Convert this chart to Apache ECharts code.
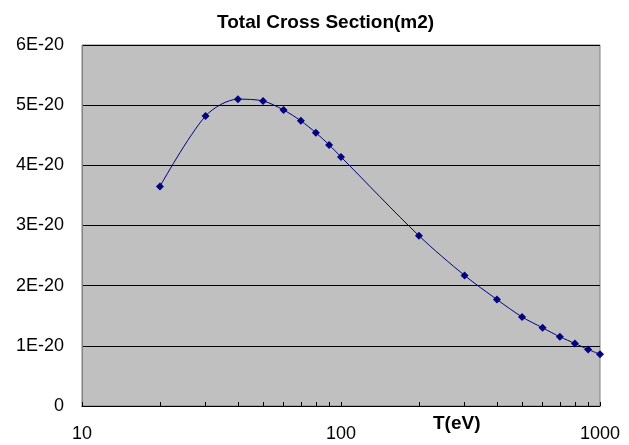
<!DOCTYPE html>
<html>
<head>
<meta charset="utf-8">
<title>Total Cross Section</title>
<script src="https://cdn.jsdelivr.net/npm/echarts@6/dist/echarts.min.js"></script>
<style>
  html, body { margin: 0; padding: 0; background: #fff; }
  #main { width: 629px; height: 445px; }
</style>
</head>
<body>
<div id="main"></div>
<script>
// 能量 T(eV)
var energy = [20, 30, 40, 50, 60, 70, 80, 90, 100, 200, 300, 400, 500, 600, 700, 800, 900, 1000];
// 截面，单位 1E-20 m2
var crossSection = [3.65, 4.82, 5.10, 5.07, 4.92, 4.74, 4.54, 4.34, 4.14, 2.83, 2.17, 1.77, 1.48, 1.30, 1.15, 1.04, 0.94, 0.86];
// x轴刻度
var xTickValues = [10, 20, 30, 40, 50, 60, 70, 80, 90, 100, 200, 300, 400, 500, 600, 700, 800, 900, 1000];
var xLabelValues = [10, 100, 1000];

var myChart = echarts.init(document.getElementById('main'));

var points = energy.map(function (t, i) { return [t, crossSection[i]]; });

var option = {
  animation: false,
  title: {
    text: 'Total Cross Section(m2)',
    left: 212,
    top: 8,
    textStyle: {
      fontFamily: 'Liberation Sans, Arial, sans-serif',
      fontSize: 19,
      fontWeight: 'bold',
      color: '#000'
    }
  },
  graphic: [{
    type: 'text',
    left: 433,
    top: 414,
    style: {
      text: 'T(eV)',
      font: 'bold 19px "Liberation Sans", Arial, sans-serif',
      fill: '#000'
    }
  }],
  grid: {
    left: 82,
    right: 29,
    top: 45,
    bottom: 39,
    show: true,
    backgroundColor: '#c0c0c0',
    borderColor: '#808080',
    borderWidth: 1
  },
  xAxis: {
    type: 'log',
    logBase: 10,
    min: 10,
    max: 1000,
    axisLine: { show: true, lineStyle: { color: '#000', width: 1 } },
    axisTick: {
      show: true,
      inside: true,
      length: 4,
      customValues: xTickValues,
      lineStyle: { color: '#000' }
    },
    axisLabel: {
      customValues: xLabelValues,
      margin: 19,
      fontFamily: 'Liberation Sans, Arial, sans-serif',
      fontSize: 18,
      color: '#000',
      formatter: function (v) { return String(Math.round(v)); }
    },
    splitLine: { show: false }
  },
  yAxis: {
    type: 'value',
    min: 0,
    max: 6,
    interval: 1,
    axisLine: { show: true, lineStyle: { color: '#808080' } },
    axisTick: { show: false },
    axisLabel: {
      margin: 18,
      fontFamily: 'Liberation Sans, Arial, sans-serif',
      fontSize: 18,
      color: '#000',
      formatter: function (v) { return v === 0 ? '0' : v + 'E-20'; }
    },
    splitLine: { show: true, lineStyle: { color: '#000', width: 1 } }
  },
  series: [{
    type: 'line',
    data: points,
    smooth: 0.3,
    symbol: 'diamond',
    symbolSize: 8,
    itemStyle: { color: '#000080' },
    lineStyle: { color: '#000080', width: 1 }
  }]
};

myChart.setOption(option);
</script>
</body>
</html>
